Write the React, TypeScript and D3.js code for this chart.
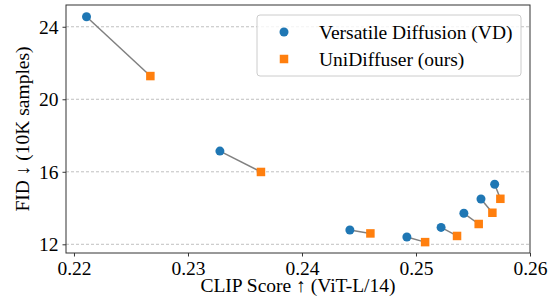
import * as d3 from "d3";
import { useEffect, useRef } from "react";

// CLIP score (x) and FID (y) for each guidance setting
const vdClip = [0.2211, 0.2328, 0.2442, 0.2492, 0.2522, 0.2542, 0.2557, 0.2569];
const vdFid = [24.55, 17.14, 12.79, 12.4, 12.93, 13.71, 14.5, 15.31];
const udClip = [0.2267, 0.2364, 0.246, 0.2508, 0.2536, 0.2555, 0.2567, 0.2574];
const udFid = [21.28, 15.99, 12.6, 12.12, 12.46, 13.12, 13.74, 14.51];

const xTicks = [0.22, 0.23, 0.24, 0.25, 0.26];
const yTicks = [12, 16, 20, 24];
const seriesNames = ["Versatile Diffusion (VD)", "UniDiffuser (ours)"];

const W = 550;
const H = 303;
const FONT = "'Liberation Serif', 'Times New Roman', serif";
const FS = 19.5;

export default function App() {
  const svgRef = useRef<SVGSVGElement>(null);

  useEffect(() => {
    const svg = d3.select(svgRef.current);
    svg.selectAll("*").remove();

    const margin = { top: 5, right: 20, bottom: 50, left: 66 };
    const width = W - margin.left - margin.right;
    const height = H - margin.top - margin.bottom;

    const x = d3.scaleLinear().domain([0.2193, 0.26]).range([0, width]);
    const y = d3.scaleLinear().domain([11.52, 25.2]).range([height, 0]);

    const g = svg
      .append("g")
      .attr("transform", `translate(${margin.left},${margin.top})`);

    // dashed horizontal grid
    g.selectAll(".grid")
      .data(yTicks)
      .enter()
      .append("line")
      .attr("x1", 0)
      .attr("x2", width)
      .attr("y1", (d) => y(d))
      .attr("y2", (d) => y(d))
      .attr("stroke", "#b0b0b0")
      .attr("stroke-width", 0.8)
      .attr("stroke-dasharray", "3,2");

    // connectors between paired points
    g.selectAll(".pair")
      .data(vdClip.map((c, i) => i))
      .enter()
      .append("line")
      .attr("x1", (i) => x(vdClip[i]))
      .attr("y1", (i) => y(vdFid[i]))
      .attr("x2", (i) => x(udClip[i]))
      .attr("y2", (i) => y(udFid[i]))
      .attr("stroke", "#808080")
      .attr("stroke-width", 1.5);

    g.selectAll(".vd")
      .data(vdClip.map((c, i) => i))
      .enter()
      .append("circle")
      .attr("cx", (i) => x(vdClip[i]))
      .attr("cy", (i) => y(vdFid[i]))
      .attr("r", 4.5)
      .attr("fill", "#1f77b4");

    const s = 8.5;
    g.selectAll(".ud")
      .data(udClip.map((c, i) => i))
      .enter()
      .append("rect")
      .attr("x", (i) => x(udClip[i]) - s / 2)
      .attr("y", (i) => y(udFid[i]) - s / 2)
      .attr("width", s)
      .attr("height", s)
      .attr("fill", "#ff7f0e");

    // axes
    const xAxis = g
      .append("g")
      .attr("transform", `translate(0,${height})`)
      .call(
        d3
          .axisBottom(x)
          .tickValues(xTicks)
          .tickFormat(d3.format(".2f"))
          .tickSize(3.5)
          .tickPadding(5)
      );
    const yAxis = g.append("g").call(
      d3.axisLeft(y).tickValues(yTicks).tickSize(3.5).tickPadding(4)
    );
    [xAxis, yAxis].forEach((a) => {
      a.select(".domain").remove();
      a.selectAll("line").attr("stroke", "#000").attr("stroke-width", 0.8);
      a.selectAll("text")
        .attr("font-family", FONT)
        .attr("font-size", FS)
        .attr("fill", "#000");
    });

    g.append("rect")
      .attr("width", width)
      .attr("height", height)
      .attr("fill", "none")
      .attr("stroke", "#333")
      .attr("stroke-width", 1);

    // axis labels
    g.append("text")
      .attr("x", width / 2)
      .attr("y", height + 38.5)
      .attr("text-anchor", "middle")
      .attr("font-family", FONT)
      .attr("font-size", FS)
      .text("CLIP Score ↑ (ViT-L/14)");
    g.append("text")
      .attr("transform", `translate(-37,${height / 2}) rotate(-90)`)
      .attr("text-anchor", "middle")
      .attr("font-family", FONT)
      .attr("font-size", FS)
      .text("FID ↓ (10K samples)");

    // legend
    const lg = g
      .append("g")
      .attr("transform", `translate(${257 - margin.left},${15 - margin.top})`);
    lg.append("rect")
      .attr("width", 264)
      .attr("height", 61)
      .attr("rx", 3)
      .attr("fill", "#fff")
      .attr("fill-opacity", 0.8)
      .attr("stroke", "#cccccc");
    lg.append("circle").attr("cx", 27).attr("cy", 17).attr("r", 4.5).attr("fill", "#1f77b4");
    lg.append("rect")
      .attr("x", 27 - s / 2)
      .attr("y", 44 - s / 2)
      .attr("width", s)
      .attr("height", s)
      .attr("fill", "#ff7f0e");
    lg.selectAll(".lt")
      .data(seriesNames)
      .enter()
      .append("text")
      .attr("x", 62)
      .attr("y", (d, i) => 17 + i * 27)
      .attr("dy", "0.35em")
      .attr("font-family", FONT)
      .attr("font-size", FS)
      .text((d) => d);
  }, []);

  return (
    <svg
      ref={svgRef}
      width={W}
      height={H}
      style={{ position: "absolute", left: 0, top: 0, background: "#fff" }}
    />
  );
}
